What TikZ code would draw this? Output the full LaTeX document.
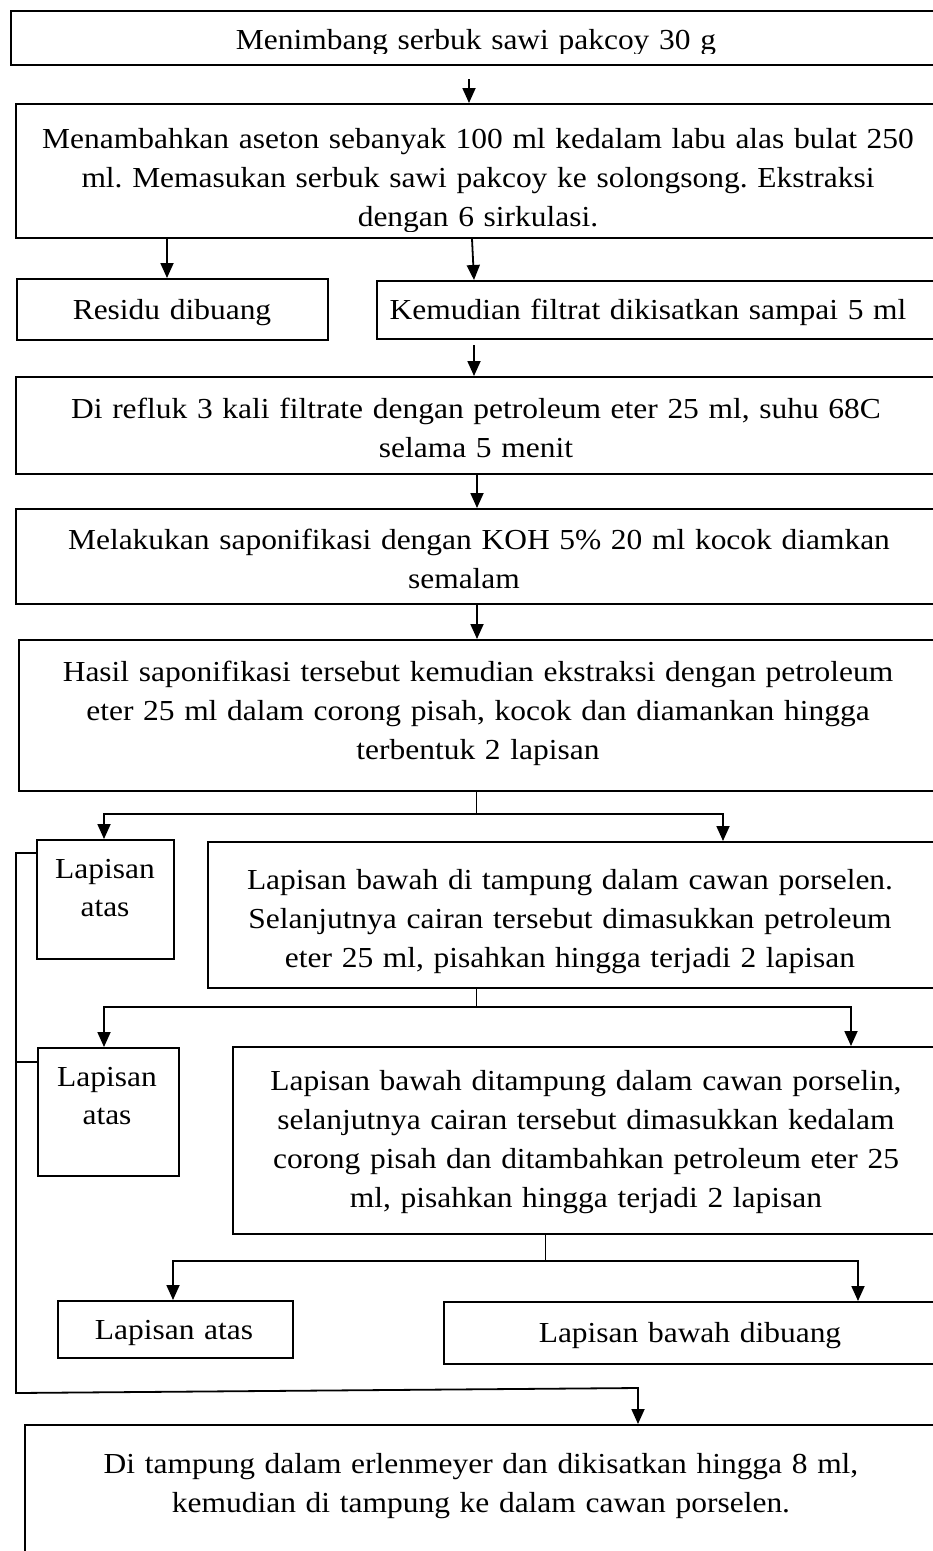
\documentclass[tikz,border=0pt]{standalone}
\usepackage{fontspec}
\setmainfont{Liberation Serif}[FakeStretch=1.085]
\usetikzlibrary{arrows.meta}
\begin{document}
\frenchspacing
\begin{tikzpicture}[x=1pt,y=-1pt,
  box/.style={draw=black, line width=1.8pt, inner sep=0pt, anchor=north west},
  txt/.style={font=\frenchspacing\fontsize{29}{39}\selectfont, align=center, text width=1100pt, inner sep=0pt, anchor=base},
  arr/.style={line width=1.8pt, -{Triangle[length=15pt,width=13pt]}},
  stem/.style={line width=0.9pt},
  ln/.style={line width=1.8pt}]
\clip (0,0) rectangle (933,1551);
\fill[white] (0,0) rectangle (933,1551);
% boxes
\node[box, minimum width=932pt, minimum height=54pt]  (nA)   at (10,10) {};
\node[box, minimum width=926pt, minimum height=134pt] (nB)   at (15,103) {};
\node[box, minimum width=311pt, minimum height=61pt]  (nRes) at (16,278) {};
\node[box, minimum width=564pt, minimum height=58pt]  (nKem) at (376,280) {};
\node[box, minimum width=925pt, minimum height=97pt]  (nRef) at (15,376) {};
\node[box, minimum width=925pt, minimum height=95pt]  (nSap) at (15,508) {};
\node[box, minimum width=922pt, minimum height=151pt] (nHas) at (18,639) {};
\node[box, minimum width=137pt, minimum height=119pt] (nAt1) at (36,839) {};
\node[box, minimum width=733pt, minimum height=146pt] (nBw1) at (207,841) {};
\node[box, minimum width=141pt, minimum height=128pt] (nAt2) at (37,1047) {};
\node[box, minimum width=708pt, minimum height=187pt] (nBw2) at (232,1046) {};
\node[box, minimum width=235pt, minimum height=57pt]  (nAt3) at (57,1300) {};
\node[box, minimum width=497pt, minimum height=62pt]  (nBw3) at (443,1301) {};
\node[box, minimum width=916pt, minimum height=180pt] (nFin) at (24,1424) {};
% texts
\begin{scope}
\clip (0,0) rectangle (933,53);
\node[txt] (tA) at (476,49) {Menimbang serbuk sawi pakcoy 30 g};
\end{scope}
\begin{scope}
\clip (0,0) rectangle (933,231);
\node[txt] (tB) at (478,148) {Menambahkan aseton sebanyak 100 ml kedalam labu alas bulat 250\\ml. Memasukan serbuk sawi pakcoy ke solongsong. Ekstraksi\\dengan 6 sirkulasi.};
\end{scope}
\node[txt] (tRes) at (172,319) {Residu dibuang};
\node[txt] (tKem) at (648,319) {Kemudian filtrat dikisatkan sampai 5 ml};
\node[txt] (tRef) at (476,418) {Di refluk 3 kali filtrate dengan petroleum eter 25 ml, suhu 68C\\selama 5 menit};
\node[txt] (tSap) at (479,549) {Melakukan saponifikasi dengan KOH 5\%\ 20 ml kocok diamkan\\semalam\rule{30pt}{0pt}};
\node[txt] (tHas) at (478,681) {Hasil saponifikasi tersebut kemudian ekstraksi dengan petroleum\\eter 25 ml dalam corong pisah, kocok dan diamankan hingga\\terbentuk 2 lapisan};
\node[txt, font=\fontsize{29}{38}\selectfont] (tAt1) at (105,878) {Lapisan\\atas};
\node[txt] (tBw1) at (570,889) {Lapisan bawah di tampung dalam cawan porselen.\\Selanjutnya cairan tersebut dimasukkan petroleum\\eter 25 ml, pisahkan hingga terjadi 2 lapisan};
\node[txt, font=\fontsize{29}{38}\selectfont] (tAt2) at (107,1086) {Lapisan\\atas};
\node[txt] (tBw2) at (586,1090) {Lapisan bawah ditampung dalam cawan porselin,\\selanjutnya cairan tersebut dimasukkan kedalam\\corong pisah dan ditambahkan petroleum eter 25\\ml, pisahkan hingga terjadi 2 lapisan};
\node[txt] (tAt3) at (174,1339) {Lapisan atas};
\node[txt] (tBw3) at (690,1342) {Lapisan bawah dibuang};
\node[txt] (tFin) at (481,1473) {Di tampung dalam erlenmeyer dan dikisatkan hingga 8 ml,\\kemudian di tampung ke dalam cawan porselen.};
% connectors
\coordinate (c1) at (469,79);
\draw[arr] (c1) -- (c1 |- nB.north);
\draw[arr] (nB.south -| 167,0) -- (nRes.north -| 167,0);
\draw[arr] (nB.south -| 472,0) -- (nKem.north -| 474,0);
\coordinate (c2) at (474,345);
\draw[arr] (c2) -- (c2 |- nRef.north);
\draw[arr] (nRef.south -| 477,0) -- (nSap.north -| 477,0);
\draw[arr] (nSap.south -| 477,0) -- (nHas.north -| 477,0);
% split 1
\coordinate (s1) at (476,814);
\draw[stem] (nHas.south -| s1) -- (s1);
\draw[arr] (s1) -| (nAt1.north -| 104,0);
\draw[arr] (s1) -| (nBw1.north -| 723,0);
% split 2
\coordinate (s2) at (476,1007);
\draw[stem] (nBw1.south -| s2) -- (s2);
\draw[arr] (s2) -| (nAt2.north -| 104,0);
\draw[arr] (s2) -| (nBw2.north -| 851,0);
% split 3
\coordinate (s3) at (545,1261);
\draw[stem] (nBw2.south -| s3) -- (s3);
\draw[arr] (s3) -| (nAt3.north -| 173,0);
\draw[arr] (s3) -| (nBw3.north -| 858,0);
% collecting line on the left
\coordinate (L1) at (16,853);
\coordinate (L2) at (16,1393);
\coordinate (L3) at (638,1388);
\draw[arr] (nAt1.west |- L1) -- (L1) -- (L2) -- (L3) -- (L3 |- nFin.north);
\coordinate (L4) at (16,1062);
\draw[ln] (nAt2.west |- L4) -- (L4);
\end{tikzpicture}
\end{document}
